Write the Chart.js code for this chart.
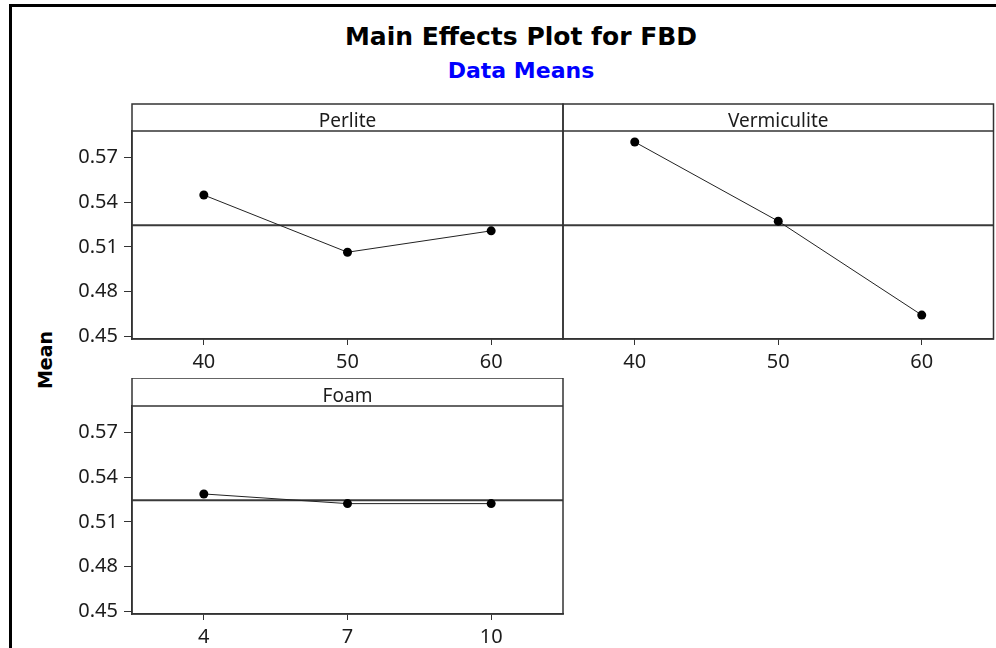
<!DOCTYPE html>
<html>
<head>
<meta charset="utf-8">
<script src="https://cdn.jsdelivr.net/npm/chart.js@4.4.1/dist/chart.umd.min.js"></script>
<style>
  body { margin: 0; background: #fff; width: 996px; height: 648px; overflow: hidden; position: relative; }
  .frame { position: absolute; left: 9px; top: 4px; width: 1100px; height: 800px; border-left: 3px solid #000; border-top: 3px solid #000; }
  .title { position: absolute; left: 0; width: 1042px; text-align: center; font-family: "DejaVu Sans"; font-weight: bold; }
  #title { top: 24px; font-size: 25px; line-height: 25px; color: #000; }
  #subtitle { top: 60px; font-size: 22px; line-height: 22px; color: #0000ff; }
  #ylabel { position: absolute; left: -5px; top: 348px; width: 100px; height: 24px; line-height: 24px; text-align: center;
    font-family: "DejaVu Sans"; font-weight: bold; font-size: 19px; color: #000; transform: rotate(-90deg); }
  canvas { position: absolute; }
</style>
</head>
<body>
<div class="frame"></div>
<div class="title" id="title">Main Effects Plot for FBD</div>
<div class="title" id="subtitle">Data Means</div>
<div id="ylabel">Mean</div>
<canvas id="perlite" width="500" height="280" style="left:70px;top:100px"></canvas>
<canvas id="vermiculite" width="448" height="280" style="left:550px;top:100px"></canvas>
<canvas id="foam" width="500" height="270" style="left:70px;top:378px"></canvas>
<script>
const perliteLevels = [40, 50, 60];
const perliteMeans = [0.5449, 0.5064, 0.5208];

const vermiculiteLevels = [40, 50, 60];
const vermiculiteMeans = [0.5806, 0.5273, 0.4641];

const foamLevels = [4, 7, 10];
const foamMeans = [0.5288, 0.5223, 0.5223];

const grandMean = 0.5245;
const yTicks = [0.45, 0.48, 0.51, 0.54, 0.57];
const yMin = 0.448;
const yMax = 0.588;

const panelFrame = {
  id: "panelFrame",
  afterDraw(chart, args, opts) {
    const { ctx, chartArea: a } = chart;
    ctx.save();
    ctx.strokeStyle = "#333";
    ctx.lineWidth = 1.5;
    ctx.strokeRect(a.left, a.top - opts.headerHeight, a.right - a.left, a.bottom - a.top + opts.headerHeight);
    ctx.beginPath();
    ctx.moveTo(a.left, a.top);
    ctx.lineTo(a.right, a.top);
    ctx.stroke();
    ctx.fillStyle = "#1c1c1c";
    ctx.font = '19px "Noto Sans"';
    ctx.textAlign = "center";
    ctx.textBaseline = "alphabetic";
    ctx.fillText(opts.header, (a.left + a.right) / 2, a.top - 4.5);
    ctx.restore();
  },
};

function mainEffectPanel(id, header, levels, means, xMin, xMax, opts) {
  new Chart(document.getElementById(id), {
    type: "line",
    data: {
      datasets: [
        {
          data: levels.map((lvl, i) => ({ x: lvl, y: means[i] })),
          borderColor: "#222",
          borderWidth: 1,
          pointRadius: 4.5,
          pointBackgroundColor: "#000",
          pointBorderColor: "#000",
          pointBorderWidth: 0,
        },
        {
          data: [
            { x: xMin, y: grandMean },
            { x: xMax, y: grandMean },
          ],
          borderColor: "#3a3a3a",
          borderWidth: 2,
          pointRadius: 0,
        },
      ],
    },
    options: {
      responsive: false,
      animation: false,
      devicePixelRatio: 1,
      layout: { padding: opts.padding },
      plugins: {
        legend: { display: false },
        tooltip: { enabled: false },
        panelFrame: { header: header, headerHeight: opts.headerHeight },
      },
      scales: {
        x: {
          type: "linear",
          min: xMin,
          max: xMax,
          afterBuildTicks: (scale) => {
            scale.ticks = levels.map((v) => ({ value: v }));
          },
          afterFit: (scale) => {
            scale.height = opts.xHeight;
          },
          grid: { drawOnChartArea: false, drawTicks: true, tickLength: 6, color: "#333" },
          border: { display: true, color: "#333", width: 1.5 },
          ticks: { color: "#1c1c1c", padding: 5, maxRotation: 0, font: { family: "Noto Sans", size: 20 } },
        },
        y: {
          display: opts.showY,
          min: yMin,
          max: yMax,
          afterBuildTicks: (scale) => {
            scale.ticks = yTicks.map((v) => ({ value: v }));
          },
          afterFit: (scale) => {
            scale.width = opts.showY ? 62 : 0;
          },
          grid: { drawOnChartArea: false, drawTicks: true, tickLength: 8, color: "#333" },
          border: { display: true, color: "#333", width: 1.5 },
          ticks: {
            color: "#1c1c1c",
            padding: 6,
            font: { family: "Noto Sans", size: 20 },
            callback: (v) => v.toFixed(2),
          },
        },
      },
    },
    plugins: [panelFrame],
  });
}

mainEffectPanel("perlite", "Perlite", perliteLevels, perliteMeans, 35, 65, {
  padding: { left: 0, top: 31, right: 7, bottom: 0 },
  headerHeight: 27,
  xHeight: 41,
  showY: true,
});

mainEffectPanel("vermiculite", "Vermiculite", vermiculiteLevels, vermiculiteMeans, 35, 65, {
  padding: { left: 13, top: 31, right: 3, bottom: 0 },
  headerHeight: 27,
  xHeight: 41,
  showY: false,
});

mainEffectPanel("foam", "Foam", foamLevels, foamMeans, 2.5, 11.5, {
  padding: { left: 0, top: 28, right: 7, bottom: 0 },
  headerHeight: 28,
  xHeight: 34,
  showY: true,
});
</script>
</body>
</html>
